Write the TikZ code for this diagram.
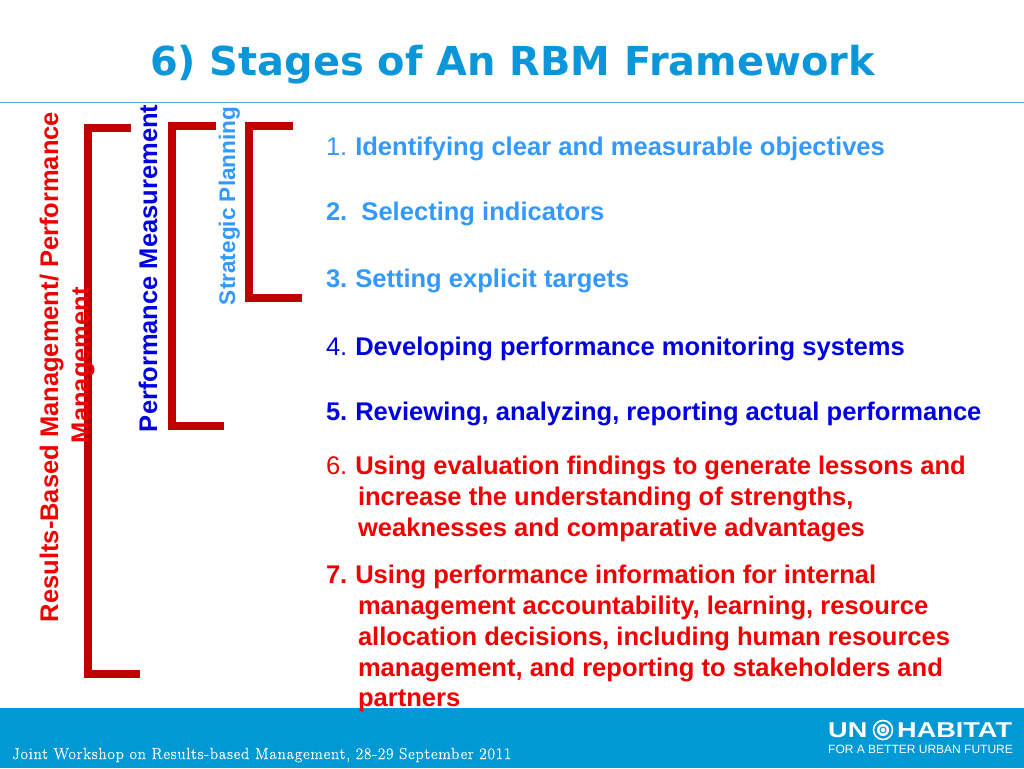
\documentclass[tikz,border=0pt]{standalone}
\usepackage{fontspec}
\setmainfont{Liberation Sans}
\newfontfamily\titlefont{DejaVu Sans}
\newfontfamily\footfont{Latin Modern Roman}[LetterSpace=5,FakeBold=0.4]
\newfontfamily\logofont{Liberation Sans}[FakeStretch=1.26]
\newfontfamily\tagfont{Liberation Sans}
\definecolor{ttl}{HTML}{0C96DA}
\definecolor{lblue}{HTML}{3399FF}
\definecolor{dblue}{HTML}{0000E0}
\definecolor{rd}{HTML}{F00000}
\definecolor{brk}{HTML}{C00000}
\definecolor{band}{HTML}{0099D4}
\definecolor{rule}{HTML}{55ABD2}
\newcommand{\numgap}{\hspace{-1.5pt}}
\tikzset{
  x=1pt,y=-1pt,
  item/.style={anchor=base west,inner sep=0pt,outer sep=0pt,font=\fontsize{25.55}{25.55}\selectfont},
  side/.style={rotate=90,anchor=base west,inner sep=0pt,outer sep=0pt,font=\fontsize{25.5}{25.5}\selectfont\bfseries},
  bracket/.style={draw=brk,line width=8pt,miter limit=10},
  logotext/.style={anchor=base west,inner sep=0pt,text=white},
}
\begin{document}
\begin{tikzpicture}
\useasboundingbox (0,0) rectangle (1024,768);
\fill[white] (0,0) rectangle (1024,768);
\fill[band] (0,708) rectangle (1024,768);
\draw[rule,line width=1pt] (0,102) -- (1024,102);
\node[anchor=base,inner sep=0pt,font=\titlefont\fontsize{39.9}{39.9}\selectfont\bfseries,text=ttl] (title) at (512.5,75) {6) Stages of An RBM Framework};
% brackets
\draw[bracket] (131,128) -- (88,128) -- (88,674) -- (140,674);
\draw[bracket] (216,125.5) -- (172,125.5) -- (172,426) -- (224,426);
\draw[bracket] (293,125.5) -- (249,125.5) -- (249,298) -- (302,298);
% side labels
\node[side,text=rd] (rbm) at (58,622) {Results-Based Management/ Performance};
\node[side,text=rd] (rbmb) at (89,443) {Management};
\node[side,text=dblue] (pm) at (157,432) {Performance Measurement};
\node[side,text=lblue,font=\fontsize{22.6}{22.6}\selectfont\bfseries] (sp) at (235,305) {Strategic Planning};
% items
\node[item,text=lblue] (i1) at (326,155) {1. \numgap\textbf{Identifying clear and measurable objectives}};
\node[item,text=lblue] (i2) at (326,220) {\textbf{2.\ \ Selecting indicators}};
\node[item,text=lblue] (i3) at (326,287) {\textbf{3. \numgap Setting explicit targets}};
\node[item,text=dblue] (i4) at (326,355) {4. \numgap\textbf{Developing performance monitoring systems}};
\node[item,text=dblue] (i5) at (326,420) {\textbf{5. \numgap Reviewing, analyzing, reporting actual performance}};
\node[item,text=rd] (i6) at (326,474) {6. \numgap\textbf{Using evaluation findings to generate lessons and}};
\node[item,text=rd] (i6b) at (358,505) {\textbf{increase the understanding of strengths,}};
\node[item,text=rd] (i6c) at (358,536) {\textbf{weaknesses and comparative advantages}};
\node[item,text=rd] (i7) at (326,583) {\textbf{7. \numgap Using performance information for internal}};
\node[item,text=rd] (i7b) at (358,614) {\textbf{management accountability, learning, resource}};
\node[item,text=rd] (i7c) at (358,645) {\textbf{allocation decisions, including human resources}};
\node[item,text=rd] (i7d) at (358,676) {\textbf{management, and reporting to stakeholders and}};
\node[item,text=rd] (i7e) at (358,706) {\textbf{partners}};
% footer
\node[anchor=base west,inner sep=0pt,text=white,font=\footfont\fontsize{16.1}{16.1}\selectfont] (foot) at (12,759) {Joint Workshop on Results-based Management, 28-29 September 2011};
% logo
\node[logotext,font=\logofont\fontsize{21.5}{21.5}\selectfont\bfseries] (un) at (828,737) {UN};
\node[logotext,font=\logofont\fontsize{21.5}{21.5}\selectfont\bfseries] (hab) at (897,737) {HABITAT};
\node[logotext,font=\tagfont\fontsize{12}{12}\selectfont] (tag) at (828,753) {FOR A BETTER URBAN FUTURE};
\coordinate (emb) at (883,730);
\draw[white,line width=1.6pt] (emb) circle (9.5);
\fill[white] (emb) circle (6);
\draw[band,line width=1pt] (emb) circle (3);
\end{tikzpicture}
\end{document}
